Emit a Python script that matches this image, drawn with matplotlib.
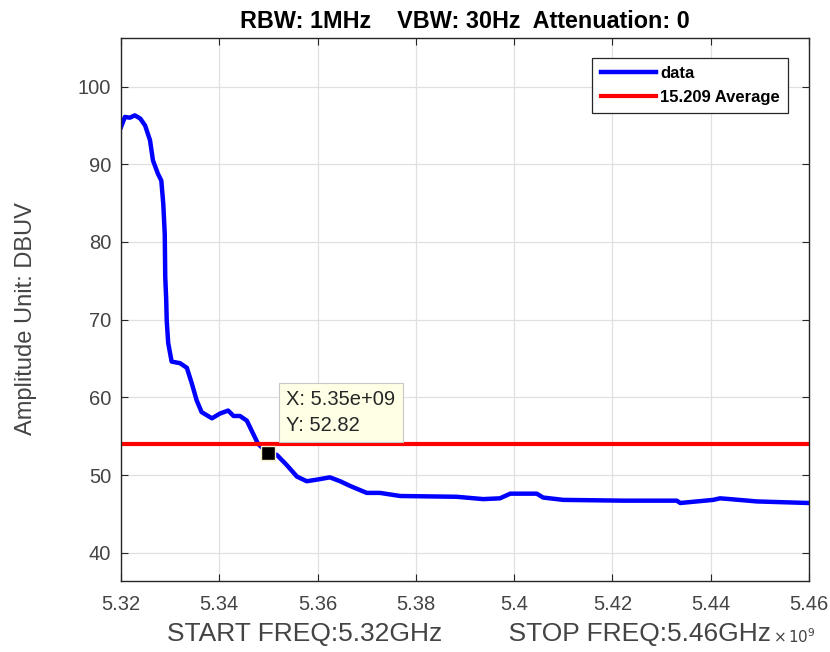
import matplotlib
matplotlib.use('Agg')
import matplotlib.pyplot as plt
from matplotlib.ticker import FuncFormatter

plt.rcParams['font.family'] = ['Liberation Sans', 'DejaVu Sans']

# 주파수 (GHz) 와 측정값 (dBuV)
freq_ghz = [5.3200, 5.3208, 5.3218, 5.3228, 5.3239, 5.3249, 5.3259, 5.3265,
            5.3275, 5.3282, 5.3286, 5.3289, 5.3290, 5.3292, 5.3293, 5.3296,
            5.3303, 5.3320, 5.3334, 5.3344, 5.3354, 5.3364, 5.3385, 5.3401,
            5.3418, 5.3429, 5.3442, 5.3456, 5.3469, 5.3479, 5.3500, 5.3517,
            5.3537, 5.3558, 5.3578, 5.3598, 5.3625, 5.3646, 5.3666, 5.3700,
            5.3727, 5.3768, 5.3883, 5.3937, 5.3971, 5.3992, 5.4046, 5.4059,
            5.4100, 5.4222, 5.4331, 5.4338, 5.4405, 5.4419, 5.4439, 5.4494,
            5.4599]
level = [94.8, 96.1, 96.0, 96.3, 95.9, 95.0, 93.1, 90.5,
         88.8, 87.9, 84.9, 81.0, 75.5, 72.5, 69.9, 67.0,
         64.6, 64.4, 63.8, 61.8, 59.6, 58.1, 57.3, 57.9,
         58.3, 57.6, 57.6, 57.0, 55.3, 54.0, 52.82, 52.6,
         51.3, 49.8, 49.2, 49.4, 49.7, 49.2, 48.6, 47.7,
         47.7, 47.3, 47.2, 46.9, 47.0, 47.6, 47.6, 47.1,
         46.8, 46.7, 46.7, 46.4, 46.8, 47.0, 46.9, 46.6,
         46.4]
limit_avg = 54
tip_x = 5.35
tip_y = 52.82

xticks = [5.32, 5.34, 5.36, 5.38, 5.40, 5.42, 5.44, 5.46]
yticks = [40, 50, 60, 70, 80, 90, 100]

fig = plt.figure(figsize=(8.3, 6.52), dpi=100)
ax = fig.add_axes([0.1458, 0.1094, 0.8289, 0.8328])

ax.plot(freq_ghz, level, color='#0000ff', lw=3.2, label='data')
ax.axhline(limit_avg, color='#ff0000', lw=3, label='15.209 Average')

ax.set_xlim(5.32, 5.46)
ax.set_ylim(min(level) - 10, max(level) + 10)
ax.set_xticks(xticks)
ax.set_yticks(yticks)
ax.xaxis.set_major_formatter(FuncFormatter(lambda v, p: ('%.2f' % v).rstrip('0').rstrip('.')))

ax.grid(True, color='#e0e0e0', lw=0.9)
ax.set_axisbelow(True)
for s in ax.spines.values():
    s.set_color('#262626')
    s.set_linewidth(1.0)
ax.tick_params(direction='in', length=5, width=0.8, colors='#262626',
               labelsize=14.5, top=True, right=True)
ax.tick_params(axis='x', pad=10)
ax.tick_params(axis='y', pad=7)
for t in ax.get_xticklabels() + ax.get_yticklabels():
    t.set_color('#444444')

ax.set_title('RBW: 1MHz    VBW: 30Hz  Attenuation: 0', fontsize=16.8,
             fontweight='bold', pad=7)
ax.set_xlabel('START FREQ:5.32GHz         STOP FREQ:5.46GHz',
              fontsize=19, color='#444444')
ax.xaxis.set_label_coords(0.5055, -0.077)
ax.set_ylabel('Amplitude Unit: DBUV', fontsize=17, color='#444444')
ax.yaxis.set_label_coords(-0.122, 0.482)
fig.text(773 / 830, 9 / 652, r'$\times\,10^{9}$', fontsize=11, color='#444444',
         va='baseline')

leg = ax.legend(loc='upper right', bbox_to_anchor=(0.9695, 0.9626), borderaxespad=0,
                prop={'weight': 'bold', 'size': 12}, fancybox=False,
                edgecolor='#262626', framealpha=1, borderpad=0.5,
                handlelength=3.3, handletextpad=0.25, labelspacing=0.5)
leg.get_frame().set_linewidth(0.9)

# 데이터팁
ax.plot([tip_x], [tip_y], 's', ms=10.5, color='black', mec='#f5f0c8', mew=1, zorder=5)
ax.annotate('X: 5.35e+09\nY: 52.82', xy=(tip_x, tip_y), xytext=(13, 13),
            textcoords='offset points', fontsize=14.5, color='#262626',
            linespacing=1.5, va='bottom', ha='left', zorder=6,
            bbox=dict(boxstyle='square,pad=0.35', fc='#ffffe6', ec='#c8c8c8', lw=0.8))

fig.savefig('out.png', dpi=100)
